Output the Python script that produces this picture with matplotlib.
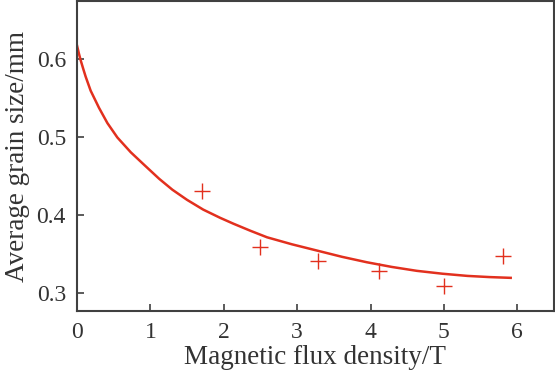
import matplotlib
matplotlib.use("Agg")
import matplotlib.pyplot as plt

# Measured data points
flux_x = [1.70, 2.50, 3.29, 4.12, 5.00, 5.81]
grain_y = [0.431, 0.359, 0.341, 0.328, 0.308, 0.347]

# Fitted curve
curve_x = [0.0, 0.025, 0.05, 0.085, 0.118, 0.186, 0.30, 0.414, 0.55, 0.733, 0.914, 1.12, 1.3, 1.5, 1.72,
           1.95, 2.13, 2.36, 2.59, 2.93, 3.27, 3.61, 3.95, 4.29, 4.63, 4.98, 5.32, 5.62, 5.91]
curve_y = [0.617, 0.607, 0.598, 0.587, 0.577, 0.559, 0.537, 0.5175, 0.499, 0.480, 0.464, 0.446, 0.432, 0.419, 0.4065,
           0.396, 0.3885, 0.3795, 0.371, 0.362, 0.354, 0.346, 0.339, 0.333, 0.328, 0.3243, 0.3215, 0.3200, 0.319]

xticks = [0, 1, 2, 3, 4, 5, 6]
yticks = [0.3, 0.4, 0.5, 0.6]

plt.rcParams['font.family'] = ['Liberation Serif', 'DejaVu Serif']
text_color = '#333333'
red = '#e2301e'

fig = plt.figure(figsize=(5.55, 3.74), dpi=100)
ax = fig.add_axes([77/555, 63/374, (554-77)/555, (374-63-1)/374])

ax.plot(curve_x, curve_y, color=red, lw=1.8, solid_joinstyle='round')
ax.plot(flux_x, grain_y, linestyle='none', marker='+', markersize=12,
        markeredgewidth=1.0, color=red)

ax.set_xlim(0, 6.5)
ax.set_ylim(0.2765, 0.674)
ax.set_xticks(xticks)
ax.set_xticklabels([str(t) for t in xticks])
ax.set_yticks(yticks)
ax.set_yticklabels([f"{t:.1f}" for t in yticks])

ax.tick_params(direction='in', length=5, width=1.2, colors='#404040',
               labelcolor=text_color, labelsize=17, pad=8)
for s in ax.spines.values():
    s.set_color('#404040')
    s.set_linewidth(1.5)

ax.set_xlabel('Magnetic flux density/T', fontsize=19.5, color=text_color, labelpad=1)
ax.set_ylabel('Average grain size/mm', fontsize=19.5, color=text_color, labelpad=5)

fig.savefig('out.png', dpi=100)
